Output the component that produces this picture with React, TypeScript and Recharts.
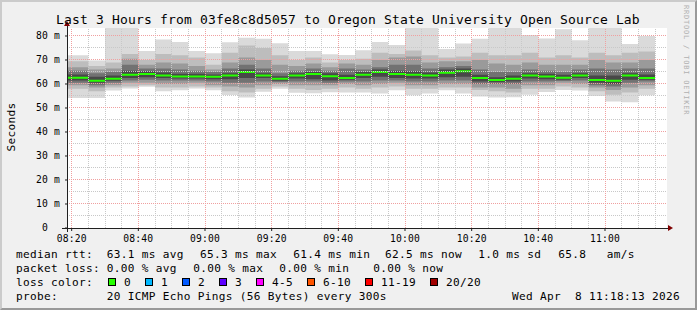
import React from "react";
import {
  ComposedChart,
  Area,
  XAxis,
  YAxis,
  CartesianGrid,
  ReferenceLine,
} from "recharts";

// 5 minute slots (start time). The first one starts before the graph start.
const slotStart = [
  "08:15", "08:25", "08:30", "08:35", "08:40", "08:45", "08:50", "08:55",
  "09:00", "09:05", "09:10", "09:15", "09:20", "09:25", "09:30", "09:35",
  "09:40", "09:45", "09:50", "09:55", "10:00", "10:05", "10:10", "10:15",
  "10:20", "10:25", "10:30", "10:35", "10:40", "10:45", "10:50", "10:55",
  "11:00", "11:05", "11:10",
];
const lastSlotEnd = "11:15";

// median rtt per slot (ms)
const median = [
  62.6, 61.4, 62.2, 63.9, 64.2, 63.5, 63.1, 63.1, 63.0, 63.5, 65.0, 63.5,
  62.2, 63.5, 64.2, 63.2, 62.5, 63.9, 65.0, 64.2, 63.9, 63.5, 64.7, 65.3,
  62.5, 61.7, 62.2, 63.5, 63.1, 62.6, 63.5, 61.7, 61.4, 63.5, 62.5,
];

// sorted pings (smoke), outer pair first
const pingMin = [
  54.2, 54.2, 57.3, 58.1, 58.8, 57.0, 57.4, 58.1, 57.4, 55.4, 54.4, 56.8,
  58.0, 56.4, 56.1, 56.6, 56.5, 56.5, 56.0, 57.4, 55.3, 56.0, 57.4, 56.0,
  54.8, 54.4, 54.5, 55.5, 56.7, 57.5, 57.3, 55.0, 52.7, 52.4, 55.3,
];
const pingMax = [
  72.0, 69.8, 84.0, 84.0, 73.7, 78.5, 77.5, 73.7, 72.8, 77.4, 79.3, 78.8,
  77.0, 73.7, 73.7, 72.4, 72.1, 74.1, 77.5, 76.2, 84.0, 84.0, 74.6, 76.9,
  78.9, 84.0, 84.0, 80.4, 79.0, 82.8, 78.2, 84.0, 84.0, 76.7, 80.0,
];
const ping03 = [
  58, 57, 58.5, 59, 59.5, 58.5, 58.5, 59, 58.5, 57, 56.5, 58,
  59, 58, 57.5, 58, 58.5, 58, 58.5, 59, 58, 58, 58.5, 58.5,
  57.5, 57, 56.5, 58, 58, 59, 58.5, 57, 55.5, 56.5, 58,
];
const ping18 = [
  69.5, 67.5, 69, 72.5, 70, 72.5, 72, 71, 68, 73, 76, 75,
  72, 70, 71, 69, 70, 70.5, 73, 72.5, 74, 72, 71, 71.5,
  73, 72, 72, 73, 71, 72, 71, 73, 72, 73, 73.5,
];
const ping05 = [
  59.5, 58.5, 59.5, 60.5, 60.5, 60, 60, 60.5, 59.5, 59, 58.5, 59.5,
  60, 59.5, 59.5, 59.5, 60, 59.5, 60, 60.5, 59.5, 59.5, 60, 60,
  58.5, 58.5, 58, 59.5, 59.5, 60.5, 60, 58.5, 57.5, 58.5, 59.5,
];
const ping16 = [
  67, 66, 66.5, 70.5, 68, 69, 68.5, 67.5, 66, 69, 71, 70,
  68, 67.5, 68.5, 67, 68.5, 68, 70, 71, 71.5, 69, 69.5, 69.5,
  70, 68.5, 68, 69, 68, 68, 68, 70, 69, 69, 70,
];
const ping07 = [
  60.5, 59.5, 60.5, 61.5, 61.8, 61.5, 61.5, 61.5, 61, 60.5, 60.5, 61,
  60.8, 61, 61, 60.5, 61, 61, 61.5, 61.5, 61, 61, 61.5, 61.5,
  60, 60, 60, 61, 61, 61.2, 61.5, 59.5, 59, 60.5, 61,
];
const ping14 = [
  65.5, 64.5, 65, 68, 66.5, 66.5, 66, 65.5, 65, 66.5, 68, 66.5,
  64.5, 65.5, 66.5, 65.5, 66.5, 66, 67, 68, 68, 66.5, 67, 67.5,
  66, 65, 65, 66, 65.5, 65, 66, 66.5, 66, 66.5, 66.5,
];
const ping09 = [
  61.5, 60.5, 61.3, 62.5, 62.8, 62.5, 62.3, 62.3, 62, 62, 62.5, 62.5,
  61.3, 62.3, 62, 61.5, 61.8, 62.5, 63, 62.5, 62.3, 62.3, 62.8, 63,
  61, 60.8, 61, 62.3, 62, 61.8, 62.5, 60.5, 60, 61.8, 61.8,
];
const ping12 = [
  64, 63, 63.5, 65.5, 65.3, 64.8, 64.3, 64.3, 64, 64.5, 66, 64.5,
  63.2, 64.5, 65, 64.5, 63.8, 65, 66, 65.5, 65.3, 64.8, 66, 66.5,
  63.8, 62.8, 63.5, 64.5, 64.3, 63.8, 64.5, 63.5, 63.5, 64.5, 64,
];

const timeTicks = ["08:20", "08:40", "09:00", "09:20", "09:40", "10:00", "10:20", "10:40", "11:00"];
const rttTicks = [0, 10, 20, 30, 40, 50, 60, 70, 80];

const title = "Last 3 Hours from 03fe8c8d5057 to Oregon State University Open Source Lab";
const rttLegend = ["63.1 ms avg", "65.3 ms max", "61.4 ms min", "62.5 ms now", "1.0 ms sd", "65.8", "am/s"];
const lossLegend = ["0.00 % avg", "0.00 % max", "0.00 % min", "0.00 % now"];
const lossLabels = ["0", "1", "2", "3", "4-5", "6-10", "11-19", "20/20"];
const lossColors = ["#26ff00", "#00b8ff", "#0059ff", "#5e00ff", "#ff00ff", "#ff5500", "#ff0000", "#a10000"];
const probeText = "20 ICMP Echo Pings (56 Bytes) every 300s";
const stamp = "Wed Apr  8 11:18:13 2026";

const mins = (s: string) => {
  const [h, m, sec = 0] = s.split(":").map(Number);
  return (h - 8) * 60 + m + sec / 60;
};

const W = 697;
const H = 310;
const GRAPH_START = mins("08:18:36");
const GRAPH_END = GRAPH_START + 180;
const Y_TOP = 83.33;
const MEDIAN_HALF = 0.42;
const MONO = "'DejaVu Sans Mono', monospace";

const rows: any[] = slotStart.map((s, i) => ({
  t: mins(s),
  med: median[i],
  b1: [pingMin[i], pingMax[i]],
  b2: [ping03[i], ping18[i]],
  b3: [ping05[i], ping16[i]],
  b4: [ping07[i], ping14[i]],
  b5: [ping09[i], ping12[i]],
}));
// close the last step
rows.push({ ...rows[rows.length - 1], t: mins(lastSlotEnd) });

const smokeBands: [string, string][] = [
  ["b1", "#dadada"],
  ["b2", "#bdbdbd"],
  ["b3", "#9a9a9a"],
  ["b4", "#727272"],
  ["b5", "#484848"],
];

const minorY = [5, 15, 25, 35, 45, 55, 65, 75];
const majorY = [10, 20, 30, 40, 50, 60, 70, 80];
const majorX = timeTicks.map(mins);
const minorX: number[] = [];
for (let t = 25; t < GRAPH_END; t += 5) if (t % 20 !== 0) minorX.push(t);

const XTick = (p: any) => (
  <text
    x={p.x}
    y={p.y + 8.7}
    textAnchor="middle"
    fontFamily={MONO}
    fontSize={9.7}
    letterSpacing={0.15}
    fill="#000"
  >
    {timeTicks[p.index]}
  </text>
);

const YTick = (p: any) => {
  const v = p.payload.value;
  return (
    <text
      x={v === 0 ? p.x - 12 : p.x}
      y={p.y + 3.4}
      textAnchor="end"
      fontFamily={MONO}
      fontSize={9.7}
      letterSpacing={0.15}
      fill="#000"
    >
      {v === 0 ? "0" : `${v} m`}
    </text>
  );
};

const xAxisShape = (p: any) => (
  <g>
    <line x1={p.x1} y1={p.y1} x2={p.x2} y2={p.y2} stroke="#202020" shapeRendering="crispEdges" />
    <polygon points={`${p.x2},${p.y2 - 3} ${p.x2 + 5},${p.y2} ${p.x2},${p.y2 + 3}`} fill="#7f0000" />
  </g>
);

const yAxisShape = (p: any) => (
  <g>
    <line x1={p.x1} y1={p.y1} x2={p.x2} y2={p.y2} stroke="#202020" shapeRendering="crispEdges" />
    <polygon points={`${p.x2 - 3},${p.y2} ${p.x2},${p.y2 - 5} ${p.x2 + 3},${p.y2}`} fill="#7f0000" />
  </g>
);

const legendText = { fontFamily: MONO, fontSize: 11.1, letterSpacing: 0.32, fill: "#000" };

function Legend() {
  const rttX = [106.7, 200, 293.3, 385, 478.3, 558.3, 606.7];
  const lossX = [106.7, 193.3, 279.3, 373.3];
  let bx = 108;
  const boxes = lossLabels.map((label, i) => {
    const x = bx;
    bx += 16 + label.length * 7 + 14;
    return (
      <g key={label}>
        <rect x={x + 0.5} y={278.5} width={7} height={7} fill={lossColors[i]} stroke="#000" />
        <text x={x + 16} y={286} {...legendText}>{label}</text>
      </g>
    );
  });
  return (
    <svg
      width={W}
      height={H}
      style={{ position: "absolute", left: 0, top: 0, pointerEvents: "none" }}
    >
      <text x={348} y={24} textAnchor="middle" fontFamily={MONO} fontSize={13} letterSpacing={0.17} fill="#000">
        {title}
      </text>
      <text x={15} y={127} transform="rotate(-90 15 127)" textAnchor="middle" {...legendText}>
        Seconds
      </text>
      <text
        x={684}
        y={5}
        transform="rotate(90 684 5)"
        fontFamily={MONO}
        fontSize={7}
        letterSpacing={0.8}
        fill="#b0b0b0"
      >
        RRDTOOL / TOBI OETIKER
      </text>

      <text x={16} y={258} {...legendText}>median rtt:</text>
      {rttLegend.map((s, i) => (
        <text key={s} x={rttX[i]} y={258} {...legendText}>{s}</text>
      ))}
      <text x={16} y={272} {...legendText}>packet loss:</text>
      {lossLegend.map((s, i) => (
        <text key={s} x={lossX[i]} y={272} {...legendText}>{s}</text>
      ))}
      <text x={16} y={286} {...legendText}>loss color:</text>
      {boxes}
      <text x={16} y={300} {...legendText}>probe:</text>
      <text x={106.7} y={300} {...legendText}>{probeText}</text>
      <text x={680} y={300} textAnchor="end" {...legendText} xmlSpace="preserve" style={{ whiteSpace: "pre" }}>
        {stamp}
      </text>
    </svg>
  );
}

export default function App() {
  return (
    <div
      style={{
        position: "absolute",
        left: 0,
        top: 0,
        width: W,
        height: H,
        background: "#f0f0f0",
        overflow: "hidden",
      }}
    >
      <ComposedChart
        width={W}
        height={H}
        data={rows}
        margin={{ top: 28, right: 30, bottom: 62, left: 7 }}
      >
        <CartesianGrid horizontal={false} vertical={false} fill="#ffffff" stroke="none" />
        <XAxis
          type="number"
          dataKey="t"
          domain={[GRAPH_START, GRAPH_END]}
          allowDataOverflow
          ticks={majorX}
          interval={0}
          height={20}
          tickSize={3}
          tickMargin={2}
          axisLine={false}
          tickLine={{ stroke: "#202020" }}
          tick={(p: any) => <XTick {...p} />}
        />
        <YAxis
          type="number"
          domain={[0, Y_TOP]}
          allowDataOverflow
          ticks={rttTicks}
          interval={0}
          width={60}
          tickSize={2}
          tickMargin={5}
          axisLine={false}
          tickLine={{ stroke: "#202020" }}
          tick={(p: any) => <YTick {...p} />}
        />

        {smokeBands.map(([key, color]) => (
          <Area
            key={key}
            type="stepAfter"
            dataKey={key}
            stroke="none"
            fill={color}
            fillOpacity={1}
            isAnimationActive={false}
          />
        ))}
        <Area
          type="stepAfter"
          dataKey={(d: any) => [d.med - MEDIAN_HALF, d.med + MEDIAN_HALF]}
          stroke="none"
          fill="#26ff00"
          fillOpacity={1}
          isAnimationActive={false}
        />

        {minorY.map((v) => (
          <ReferenceLine key={`my${v}`} y={v} stroke="#c8c8c8" strokeDasharray="1 1" shapeRendering="crispEdges" />
        ))}
        {minorX.map((v) => (
          <ReferenceLine key={`mx${v}`} x={v} stroke="#c8c8c8" strokeDasharray="1 1" shapeRendering="crispEdges" />
        ))}
        {majorY.map((v) => (
          <ReferenceLine key={`My${v}`} y={v} stroke="#f0a0a0" strokeDasharray="1 1" shapeRendering="crispEdges" />
        ))}
        {majorX.map((v) => (
          <ReferenceLine key={`Mx${v}`} x={v} stroke="#f0a0a0" strokeDasharray="1 1" shapeRendering="crispEdges" />
        ))}

        <ReferenceLine
          segment={[{ x: GRAPH_START - 1.5, y: 0 }, { x: GRAPH_START + 180.3, y: 0 }]}
          ifOverflow="visible"
          shape={xAxisShape}
        />
        <ReferenceLine
          segment={[{ x: GRAPH_START, y: -1.7 }, { x: GRAPH_START, y: Y_TOP + 0.85 }]}
          ifOverflow="visible"
          shape={yAxisShape}
        />
      </ComposedChart>
      <Legend />
      <div
        style={{
          position: "absolute",
          inset: 0,
          boxSizing: "border-box",
          borderStyle: "solid",
          borderWidth: 2,
          borderColor: "#cbcbcb #999999 #999999 #cbcbcb",
          pointerEvents: "none",
        }}
      />
    </div>
  );
}
